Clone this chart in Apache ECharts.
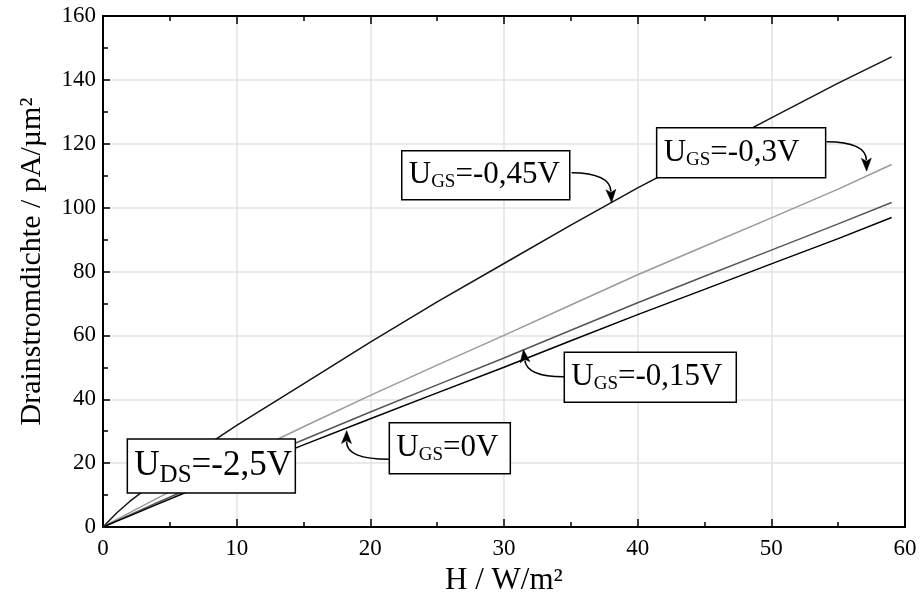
<!DOCTYPE html>
<html>
<head>
<meta charset="utf-8">
<script src="https://cdn.jsdelivr.net/npm/echarts@6/dist/echarts.min.js"></script>
<style>
  html, body { margin: 0; padding: 0; background: #fff; }
  #chart { width: 920px; height: 605px; }
</style>
</head>
<body>
<div id="chart"></div>
<script>
    // H / W/m² sample positions
    var xs = [0, 1, 2, 4, 6, 8, 10, 15, 20, 25, 30, 35, 40, 45, 50, 55, 59];

    // drain current density, pA/µm²
    var ugs045 = [0, 4.3, 8.0, 14.4, 20.5, 26.3, 31.8, 44.8, 57.9, 70.5, 82.5, 94.5, 106.2, 117.1, 128.1, 139.0, 147.2];
    var ugs03 = [0, 2.3, 4.5, 8.9, 13.2, 17.4, 21.3, 31.4, 41.2, 50.7, 60.0, 69.5, 79.0, 87.9, 96.8, 105.8, 113.5];
    var ugs015 = [0, 1.9, 3.8, 7.5, 11.2, 14.9, 18.5, 27.3, 36.0, 44.5, 52.9, 61.6, 70.2, 78.5, 86.7, 94.9, 101.6];
    var ugs0 = [0, 1.75, 3.5, 7.0, 10.5, 13.9, 17.3, 25.7, 33.9, 42.0, 50.0, 58.3, 66.5, 74.4, 82.4, 90.3, 96.9];

    var seriesNames = ['U_GS=-0,45V', 'U_GS=-0,3V', 'U_GS=-0,15V', 'U_GS=0V'];
    var seriesColors = ['#141414', '#9a9a9a', '#555555', '#000000'];

    var xTicks = [0, 10, 20, 30, 40, 50, 60];
    var yTicks = [0, 20, 40, 60, 80, 100, 120, 140, 160];

    // annotation boxes: [subscript, rest], box top-left in data coords, box size px, fonts
    var boxTexts = [
        ['GS', '=-0,45V'],
        ['GS', '=-0,3V'],
        ['GS', '=-0,15V'],
        ['GS', '=0V'],
        ['DS', '=-2,5V']
    ];
    var boxAnchors = [[22.35, 117.8], [41.42, 125.0], [34.51, 54.7], [21.42, 32.65], [1.82, 27.55]];
    var boxSizes = [[168, 49], [169, 50], [172, 50], [121, 51], [168, 54]];
    var boxFonts = [[31, 19], [31, 19], [31, 19], [31, 19], [35, 25]];

    // arrows: start, control, tip (data coords)
    var arrowStart = [[35.06, 110.9], [54.13, 120.6], [34.51, 47.06], [21.42, 21.2]];
    var arrowCtrl = [[37.93, 110.8], [57.08, 120.5], [31.72, 47.0], [18.2, 21.2]];
    var arrowTip = [[38.05, 101.6], [57.13, 111.4], [31.45, 55.6], [18.23, 30.2]];

    var serif = "'Liberation Serif', 'Times New Roman', serif";

    function pairs(ys) {
        return xs.map(function (x, i) {
            return [x, ys[i]];
        });
    }

    var myChart = echarts.init(document.getElementById('chart'));

    var allSeries = [ugs045, ugs03, ugs015, ugs0].map(function (ys, i) {
        return {
            type: 'line',
            name: seriesNames[i],
            data: pairs(ys),
            symbol: 'none',
            smooth: false,
            z: 3,
            lineStyle: {color: seriesColors[i], width: 1.5}
        };
    });

    myChart.setOption({
        animation: false,
        backgroundColor: '#fff',
        grid: {left: 103, right: 15, top: 16, bottom: 78},
        xAxis: [
            {
                type: 'value',
                min: 0,
                max: 60,
                interval: 10,
                name: 'H / W/m²',
                nameLocation: 'middle',
                nameGap: 38,
                nameTextStyle: {fontFamily: serif, fontSize: 31, color: '#000'},
                axisLine: {show: true, onZero: false, lineStyle: {color: '#000', width: 2}},
                axisTick: {show: true, inside: true, length: 8, lineStyle: {color: '#000', width: 1.5}},
                minorTick: {show: true, splitNumber: 2, length: 5, lineStyle: {color: '#000', width: 1.5}},
                axisLabel: {
                    fontFamily: serif, fontSize: 23, color: '#000', margin: 10,
                    formatter: function (v) {
                        return xTicks.indexOf(v) >= 0 ? String(v) : '';
                    }
                },
                splitLine: {show: true, lineStyle: {color: '#e3e3e3', width: 1.5}}
            },
            {
                type: 'value',
                position: 'top',
                min: 0,
                max: 60,
                interval: 10,
                axisLine: {show: true, onZero: false, lineStyle: {color: '#000', width: 2}},
                axisTick: {show: true, inside: true, length: 8, lineStyle: {color: '#000', width: 1.5}},
                minorTick: {show: true, splitNumber: 2, length: 5, lineStyle: {color: '#000', width: 1.5}},
                axisLabel: {show: false},
                splitLine: {show: false}
            }
        ],
        yAxis: [
            {
                type: 'value',
                min: 0,
                max: 160,
                interval: 20,
                name: 'Drainstromdichte / pA/µm²',
                nameLocation: 'middle',
                nameGap: 56,
                nameRotate: 90,
                nameTextStyle: {fontFamily: serif, fontSize: 30, color: '#000', padding: [0, 0, 0, 20]},
                axisLine: {show: true, onZero: false, lineStyle: {color: '#000', width: 2}},
                axisTick: {show: true, inside: true, length: 7, lineStyle: {color: '#000', width: 1.5}},
                minorTick: {show: true, splitNumber: 2, length: 5, lineStyle: {color: '#000', width: 1.5}},
                axisLabel: {
                    fontFamily: serif, fontSize: 23, color: '#000', margin: 7,
                    formatter: function (v) {
                        return yTicks.indexOf(v) >= 0 ? String(v) : '';
                    }
                },
                splitLine: {show: true, lineStyle: {color: '#e3e3e3', width: 1.5}}
            },
            {
                type: 'value',
                position: 'right',
                min: 0,
                max: 160,
                interval: 20,
                axisLine: {show: true, onZero: false, lineStyle: {color: '#000', width: 2}},
                axisTick: {show: false},
                axisLabel: {show: false},
                splitLine: {show: false}
            }
        ],
        series: allSeries
    });

    function px(p) {
        return myChart.convertToPixel({xAxisIndex: 0, yAxisIndex: 0}, p);
    }

    function buildAnnotations() {
        let els = [];
        boxTexts.forEach(function (t, i) {
            let tl = px(boxAnchors[i]);
            let w = boxSizes[i][0], h = boxSizes[i][1];
            let big = boxFonts[i][0], small = boxFonts[i][1];
            els.push({
                type: 'rect',
                z: 20,
                shape: {x: tl[0], y: tl[1], width: w, height: h},
                style: {fill: '#fff', stroke: '#000', lineWidth: 1.5}
            });
            els.push({
                type: 'text',
                z: 21,
                x: tl[0] + 7,
                y: tl[1] + h / 2,
                style: {
                    text: '{m|U}{s|' + t[0] + '}{m|' + t[1] + '}',
                    verticalAlign: 'middle',
                    rich: {
                        m: {fontFamily: serif, fontSize: big, fill: '#000', lineHeight: big + 4},
                        s: {fontFamily: serif, fontSize: small, fill: '#000', lineHeight: big + 4,
                            padding: [Math.round(small * 0.75), 0, 0, 0]}
                    }
                }
            });
        });
        arrowTip.forEach(function (tip, i) {
            let s = px(arrowStart[i]), c = px(arrowCtrl[i]), e = px(tip);
            let dx = e[0] - c[0], dy = e[1] - c[1];
            let len = Math.sqrt(dx * dx + dy * dy);
            dx /= len;
            dy /= len;
            let headLen = 13, half = 5;
            let b = [e[0] - dx * headLen, e[1] - dy * headLen];
            els.push({
                type: 'bezierCurve',
                z: 20,
                shape: {x1: s[0], y1: s[1], cpx1: c[0], cpy1: c[1], x2: b[0] + dx * 2, y2: b[1] + dy * 2},
                style: {stroke: '#000', lineWidth: 1.5, fill: null}
            });
            els.push({
                type: 'polygon',
                z: 21,
                shape: {points: [e, [b[0] - dy * half, b[1] + dx * half], [b[0] + dx * 3, b[1] + dy * 3], [b[0] + dy * half, b[1] - dx * half]]},
                style: {fill: '#000', stroke: '#000', lineWidth: 0.5}
            });
        });
        return els;
    }

    myChart.setOption({graphic: buildAnnotations()});
</script>
</body>
</html>
